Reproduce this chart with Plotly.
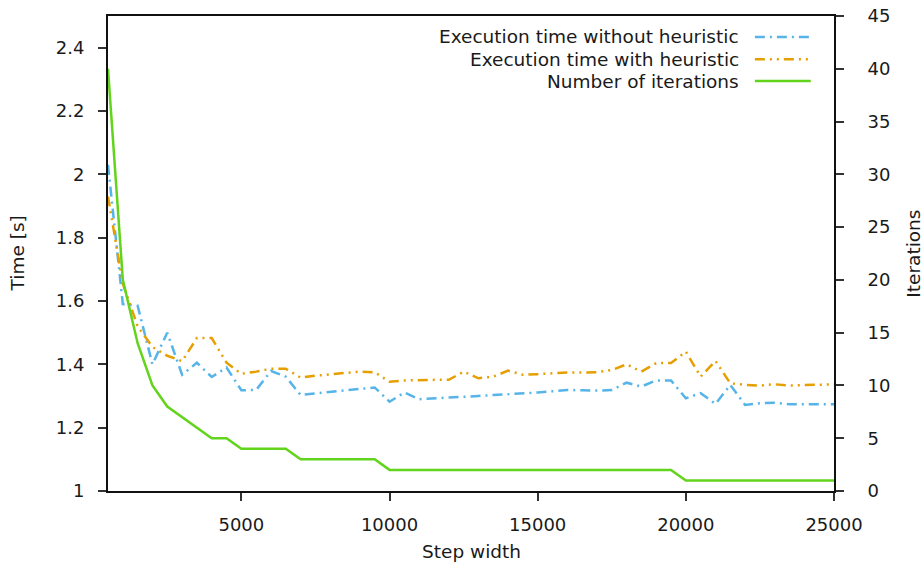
import plotly.graph_objects as go

step_width = [500, 1000, 1500, 2000, 2500, 3000, 3500, 4000, 4500, 5000,
              5500, 6000, 6500, 7000, 7500, 8000, 8500, 9000, 9500, 10000,
              10500, 11000, 11500, 12000, 12500, 13000, 13500, 14000, 14500, 15000,
              15500, 16000, 16500, 17000, 17500, 18000, 18500, 19000, 19500, 20000,
              20500, 21000, 21500, 22000, 22500, 23000, 23500, 24000, 24500, 25000]

time_without = [2.03, 1.59, 1.585, 1.40, 1.50, 1.367, 1.405, 1.36, 1.39, 1.318,
                1.319, 1.379, 1.361, 1.303, 1.308, 1.313, 1.318, 1.323, 1.327, 1.282,
                1.311, 1.29, 1.292, 1.295, 1.298, 1.30, 1.303, 1.305, 1.308, 1.311,
                1.315, 1.319, 1.318, 1.317, 1.319, 1.342, 1.33, 1.349, 1.349, 1.293,
                1.309, 1.275, 1.335, 1.272, 1.277, 1.279, 1.274, 1.274, 1.274, 1.274]

time_with = [1.93, 1.655, 1.52, 1.455, 1.427, 1.41, 1.483, 1.483, 1.405, 1.37,
             1.377, 1.386, 1.386, 1.358, 1.364, 1.368, 1.372, 1.377, 1.375, 1.345,
             1.349, 1.351, 1.351, 1.351, 1.377, 1.356, 1.361, 1.380, 1.367, 1.369,
             1.372, 1.374, 1.374, 1.375, 1.382, 1.40, 1.377, 1.404, 1.404, 1.44,
             1.361, 1.411, 1.34, 1.335, 1.333, 1.337, 1.333, 1.335, 1.335, 1.337]

iterations = [40, 20, 14, 10, 8, 7, 6, 5, 5, 4,
              4, 4, 4, 3, 3, 3, 3, 3, 3, 2,
              2, 2, 2, 2, 2, 2, 2, 2, 2, 2,
              2, 2, 2, 2, 2, 2, 2, 2, 2, 1,
              1, 1, 1, 1, 1, 1, 1, 1, 1, 1]

names = ["Execution time without heuristic", "Execution time with heuristic", "Number of iterations"]
colors = ["#56B4E9", "#E69F00", "#62D41C"]
dashes = ["10px,5px,2px,5px", "10px,5px,2px,5px,2px,5px", "solid"]

FONT = "DejaVu Sans"
FS_TICK = 18
FS_LBL = 18.5
TXT = "#1a1a1a"

fig = go.Figure()
fig.add_trace(go.Scatter(x=step_width, y=time_without, mode="lines", name=names[0],
                         line=dict(color=colors[0], width=2.5, dash=dashes[0]), yaxis="y"))
fig.add_trace(go.Scatter(x=step_width, y=time_with, mode="lines", name=names[1],
                         line=dict(color=colors[1], width=2.5, dash=dashes[1]), yaxis="y"))
fig.add_trace(go.Scatter(x=step_width, y=iterations, mode="lines", name=names[2],
                         line=dict(color=colors[2], width=2.5, dash=dashes[2]), yaxis="y2"))

axis_common = dict(showgrid=False, zeroline=False, ticks="outside", ticklen=8, tickwidth=1.5,
                   tickcolor="#333", linecolor="#111", linewidth=2, automargin=False,
                   tickfont=dict(family=FONT, size=FS_TICK, color=TXT))

fig.update_layout(
    width=924, height=565,
    margin=dict(l=108, r=90, t=16, b=74, autoexpand=False),
    paper_bgcolor="white", plot_bgcolor="white",
    showlegend=False,
    xaxis=dict(range=[500, 25000], tick0=0, dtick=5000, tickformat="d",
               showline=True, mirror=True, ticklabelstandoff=8, **axis_common),
    yaxis=dict(range=[1, 2.5], tick0=1, dtick=0.2, showline=True, mirror=False,
               ticklabelstandoff=10, **axis_common),
    yaxis2=dict(range=[0, 45], tick0=0, dtick=5, overlaying="y", side="right",
                showline=True, ticklabelstandoff=20, **axis_common),
)

ann_font = dict(family=FONT, size=FS_LBL, color=TXT)
fig.add_annotation(text="Time [s]", xref="paper", yref="paper", x=-0.124, y=0.5,
                   textangle=-90, showarrow=False, font=ann_font, xanchor="center", yanchor="middle")
fig.add_annotation(text="Iterations", xref="paper", yref="paper", x=1.109, y=0.5,
                   textangle=-90, showarrow=False, font=ann_font, xanchor="center", yanchor="middle")
fig.add_annotation(text="Step width", xref="paper", yref="paper", x=0.5, y=-0.128,
                   showarrow=False, font=ann_font, xanchor="center", yanchor="middle")

legend_y = [0.956, 0.909, 0.863]
for name, color, dash, ly in zip(names, colors, dashes, legend_y):
    fig.add_annotation(text=name, xref="paper", yref="paper", x=0.872, y=ly,
                       showarrow=False, font=ann_font, xanchor="right", yanchor="middle")
    fig.add_shape(type="line", xref="paper", yref="paper", x0=0.891, x1=0.968, y0=ly, y1=ly,
                  line=dict(color=color, width=2.5, dash=dash))

fig.write_html("out.html")
